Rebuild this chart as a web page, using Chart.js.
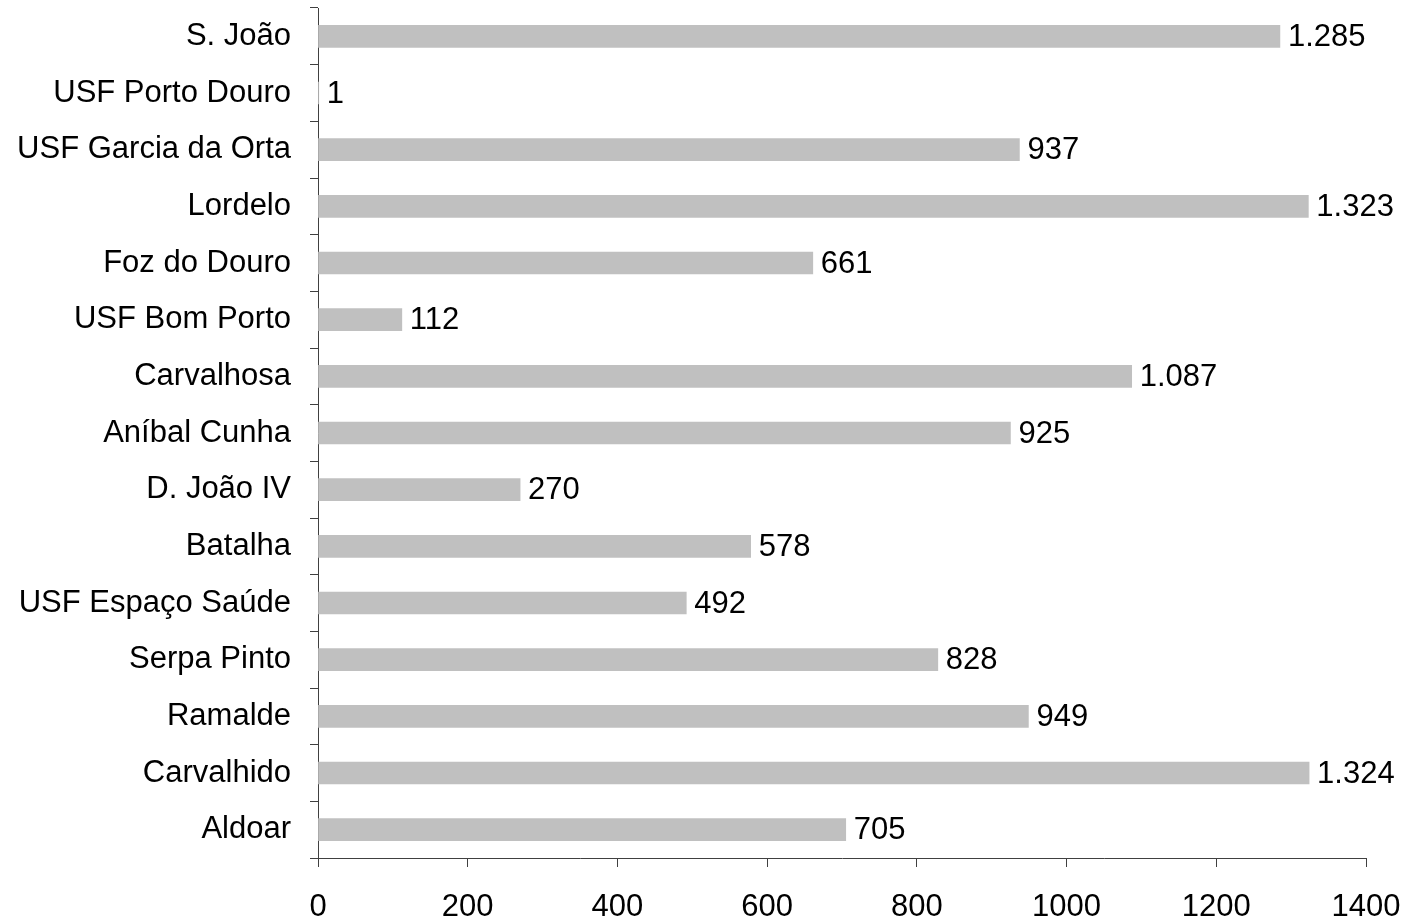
<!DOCTYPE html>
<html>
<head>
<meta charset="utf-8">
<script src="https://cdn.jsdelivr.net/npm/chart.js@4/dist/chart.umd.min.js"></script>
<style>
	html, body { margin: 0; padding: 0; background: #fff; }
	#wrap { width: 1404px; height: 920px; }
</style>
</head>
<body>
<div id="wrap"><canvas id="myChart" width="1404" height="920"></canvas></div>
<script>
	var unidades = ['S. João', 'USF Porto Douro', 'USF Garcia da Orta', 'Lordelo', 'Foz do Douro',
		'USF Bom Porto', 'Carvalhosa', 'Aníbal Cunha', 'D. João IV', 'Batalha',
		'USF Espaço Saúde', 'Serpa Pinto', 'Ramalde', 'Carvalhido', 'Aldoar'];
	var utentes = [1285, 1, 937, 1323, 661, 112, 1087, 925, 270, 578, 492, 828, 949, 1324, 705];
	var xMin = 0, xMax = 1400, xStep = 200;

	var fonte = 'Arial, "Liberation Sans", sans-serif';
	var tamanho = 31;

	function formatar(v){ // 1285 -> 1.285
		return String(v).replace(/\B(?=(\d{3})+(?!\d))/g, '.');
	}

	// valores no fim das barras
	var rotulos = {
		id: 'rotulos',
		afterDatasetsDraw: function(chart){
			var ctx = chart.ctx;
			var meta = chart.getDatasetMeta(0);
			ctx.save();
			ctx.font = tamanho + 'px ' + fonte;
			ctx.fillStyle = '#000';
			ctx.textAlign = 'left';
			ctx.textBaseline = 'middle';
			meta.data.forEach(function(bar, i){
				ctx.fillText(formatar(utentes[i]), bar.x + 8, bar.y + 1);
			});
			ctx.restore();
		}
	};

	var ctx = document.getElementById('myChart').getContext('2d');
	var myChart = new Chart(ctx, {
		type: 'bar',
		data: {
			labels: unidades,
			datasets: [{
				data: utentes,
				backgroundColor: '#c0c0c0',
				borderWidth: 0,
				barThickness: 22
			}]
		},
		options: {
			indexAxis: 'y',
			responsive: false,
			animation: false,
			layout: { padding: { top: 8, right: 38, left: 0, bottom: 0 } },
			plugins: {
				legend: { display: false },
				tooltip: { enabled: false }
			},
			scales: {
				x: {
					min: xMin,
					max: xMax,
					afterFit: function(s){
						s.height = 62;
						s.paddingLeft = 0;
						s.paddingRight = 0;
					},
					ticks: {
						stepSize: xStep,
						color: '#000',
						padding: 22,
						font: { family: fonte, size: tamanho },
						callback: function(v){ return String(v); }
					},
					grid: { drawOnChartArea: false, tickLength: 9, color: '#404040', tickWidth: 1 },
					border: { color: '#404040', width: 1 }
				},
				y: {
					afterFit: function(s){
						s.width = 318;
						s.paddingTop = 0;
						s.paddingBottom = 0;
					},
					ticks: {
						color: '#000',
						padding: 19,
						autoSkip: false,
						font: { family: fonte, size: tamanho }
					},
					grid: { drawOnChartArea: false, tickLength: 8, color: '#404040', offset: true },
					border: { color: '#404040', width: 1 }
				}
			}
		},
		plugins: [rotulos]
	});
</script>
</body>
</html>
